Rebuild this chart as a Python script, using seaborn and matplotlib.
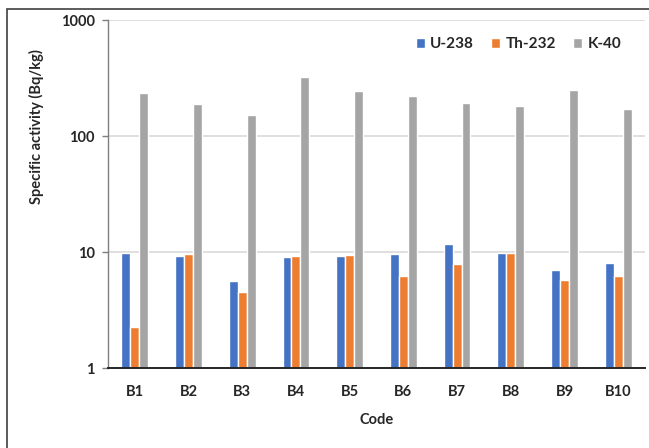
import matplotlib
matplotlib.use("Agg")
import matplotlib.pyplot as plt
import matplotlib.patches as mpatches
import seaborn as sns
import pandas as pd

# valeurs
codes = ["B1", "B2", "B3", "B4", "B5", "B6", "B7", "B8", "B9", "B10"]
u238 = [9.9, 9.2, 5.6, 9.0, 9.2, 9.6, 11.8, 9.9, 7.0, 8.0]
th232 = [2.24, 9.65, 4.5, 9.15, 9.35, 6.15, 7.85, 9.75, 5.7, 6.15]
k40 = [234, 188, 153, 323, 245, 223, 193, 182, 250, 170]
series = ["U-238", "Th-232", "K-40"]
couleurs = ["#4472C4", "#ED7D31", "#A5A5A5"]

df = pd.DataFrame({"Code": codes, "U-238": u238, "Th-232": th232, "K-40": k40})
df_long = df.melt(id_vars="Code", var_name="Nuclide", value_name="Activity")

sns.set_style("white")
plt.rcParams["font.family"] = ["Lato", "DejaVu Sans"]
plt.rcParams["font.weight"] = "bold"

fig = plt.figure(figsize=(6.49, 4.48), dpi=100)
ax = fig.add_axes([108 / 649, 1 - 368 / 448, 537 / 649, 348 / 448])
ax.set_yscale("log")

sns.barplot(data=df_long, x="Code", y="Activity", hue="Nuclide",
            hue_order=series, palette=couleurs, width=0.5,
            saturation=1, ax=ax, errorbar=None)

ax.set_ylim(1, 1000)
ax.set_xlim(-0.5, 9.5)
ax.set_yticks([1, 10, 100, 1000])
ax.set_yticklabels(["1", "10", "100", "1000"])
ax.minorticks_off()
ax.yaxis.grid(True, color="#D9D9D9", linewidth=1.2)
ax.set_axisbelow(True)

for s in ["top", "right"]:
    ax.spines[s].set_visible(False)
ax.spines["left"].set_color("#7F7F7F")
ax.spines["left"].set_linewidth(1.0)
ax.spines["bottom"].set_color("#262626")
ax.spines["bottom"].set_linewidth(1.4)

ax.tick_params(axis="y", left=True, length=4.5, width=1, color="#7F7F7F",
               labelsize=10.5, pad=5)
ax.tick_params(axis="x", bottom=False, labelsize=10.5, pad=9)
for t in ax.get_xticklabels() + ax.get_yticklabels():
    t.set_fontweight("bold")

ax.set_xlabel("Code", fontsize=10.5, fontweight="bold", labelpad=10)
ax.set_ylabel("Specific activity (Bq/kg)", fontsize=10.5, fontweight="bold",
              labelpad=14)
ax.yaxis.set_label_coords(-0.12, 0.695)

leg = ax.legend(ncol=3, frameon=False, loc="upper right",
                bbox_to_anchor=(0.981, 0.99), fontsize=11,
                handlelength=0.6, handleheight=0.6, handletextpad=0.35,
                columnspacing=1.1)
for t in leg.get_texts():
    t.set_fontweight("bold")

# cadre du graphique
cadre = mpatches.Rectangle((7 / 649, -0.1), 1.2, 1 - 9 / 448 + 0.1,
                           transform=fig.transFigure, fill=False,
                           edgecolor="#404040", linewidth=1.2)
fig.patches.append(cadre)

fig.savefig("out.png", dpi=100)
